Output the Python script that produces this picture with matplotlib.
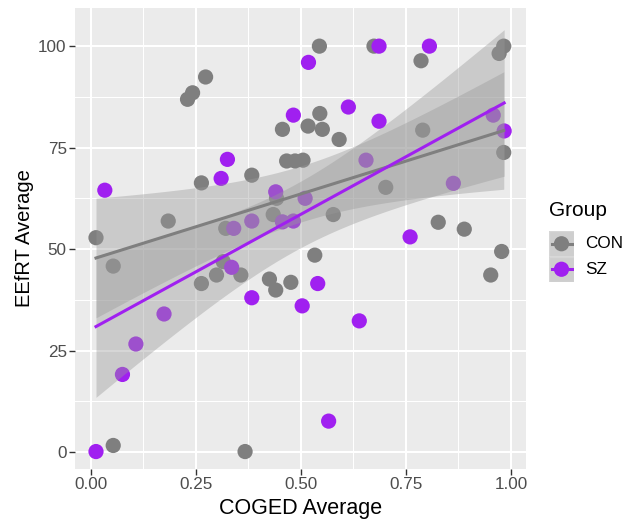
import matplotlib
matplotlib.use("Agg")
import matplotlib.pyplot as plt
import numpy as np

plt.rcParams['font.family'] = ['Liberation Sans', 'DejaVu Sans']

# CON group (x = COGED average, y = EEfRT average)
con_x = [0.012, 0.053, 0.053, 0.184, 0.230, 0.242, 0.273, 0.263, 0.263, 0.299,
         0.315, 0.321, 0.357, 0.367, 0.383, 0.425, 0.434, 0.440, 0.442, 0.456,
         0.466, 0.476, 0.486, 0.505, 0.517, 0.533, 0.544, 0.545, 0.551, 0.577,
         0.591, 0.674, 0.702, 0.786, 0.790, 0.827, 0.889, 0.952, 0.972, 0.978,
         0.983, 0.983]
con_y = [52.8, 45.8, 1.6, 56.9, 86.9, 88.5, 92.4, 66.3, 41.5, 43.6,
         46.9, 55.1, 43.6, 0.1, 68.2, 42.6, 58.5, 39.9, 62.5, 79.5,
         71.7, 41.8, 71.7, 71.9, 80.3, 48.5, 100.0, 83.4, 79.5, 58.5,
         77.0, 100.0, 65.2, 96.4, 79.3, 56.6, 54.9, 43.6, 98.2, 49.4,
         73.8, 100.0]

# SZ group
sz_x = [0.012, 0.033, 0.075, 0.107, 0.174, 0.310, 0.325, 0.335, 0.340, 0.383,
        0.383, 0.440, 0.456, 0.482, 0.482, 0.503, 0.510, 0.518, 0.540, 0.566,
        0.613, 0.639, 0.655, 0.686, 0.686, 0.760, 0.806, 0.863, 0.958, 0.984]
sz_y = [0.1, 64.5, 19.1, 26.6, 34.0, 67.4, 72.1, 45.5, 55.1, 56.9,
        38.0, 64.1, 56.7, 56.9, 83.0, 36.0, 62.5, 96.0, 41.5, 7.6,
        85.0, 32.3, 71.9, 81.5, 100.0, 53.0, 100.0, 66.2, 83.0, 79.1]

groups = ["CON", "SZ"]
colors = {"CON": "#7F7F7F", "SZ": "#A020F0"}
data = {"CON": (con_x, con_y), "SZ": (sz_x, sz_y)}
# 97.5% t quantiles for df = n - 2 (42 and 30 points)
t_val = {"CON": 2.021, "SZ": 2.048}


def lm_band(x, y, t):
    x = np.asarray(x); y = np.asarray(y)
    n = len(x)
    b, a = np.polyfit(x, y, 1)
    resid = y - (a + b * x)
    s = np.sqrt(np.sum(resid ** 2) / (n - 2))
    xs = np.linspace(x.min(), x.max(), 80)
    fit = a + b * xs
    se = s * np.sqrt(1.0 / n + (xs - x.mean()) ** 2 / np.sum((x - x.mean()) ** 2))
    return xs, fit, fit - t * se, fit + t * se


fig = plt.figure(figsize=(6.33, 5.21), dpi=100)
ax = fig.add_axes([75 / 633, 1 - 469 / 521, (526 - 75) / 633, (469 - 8) / 521])
ax.set_facecolor("#EBEBEB")

for g in groups:
    x, y = data[g]
    ax.scatter(x, y, s=120, color=colors[g], edgecolors="none", zorder=3)

fits = {}
for g in groups:
    x, y = data[g]
    fits[g] = lm_band(x, y, t_val[g])
    xs, fit, lo, hi = fits[g]
    ax.fill_between(xs, lo, hi, color="#999999", alpha=0.4, linewidth=0, zorder=4)
for g in groups:
    xs, fit, lo, hi = fits[g]
    ax.plot(xs, fit, color=colors[g], lw=2.2, zorder=5)

ax.set_xlim(-0.038, 1.036)
ax.set_ylim(-4.2, 109.4)

ax.set_xticks([0, 0.25, 0.5, 0.75, 1.0])
ax.set_xticklabels(["0.00", "0.25", "0.50", "0.75", "1.00"])
ax.set_yticks([0, 25, 50, 75, 100])
ax.set_xticks([0.125, 0.375, 0.625, 0.875], minor=True)
ax.set_yticks([12.5, 37.5, 62.5, 87.5], minor=True)
ax.grid(True, which="major", color="white", lw=1.5, zorder=0)
ax.grid(True, which="minor", color="white", lw=0.75, zorder=0)
ax.set_axisbelow(True)
for sp in ax.spines.values():
    sp.set_visible(False)
ax.tick_params(which="major", length=4, width=1, color="#333333",
               labelsize=12.3, labelcolor="#4D4D4D", pad=2)
ax.tick_params(which="minor", length=0)

ax.set_xlabel("COGED Average", fontsize=15.5, labelpad=4)
ax.set_ylabel("EEfRT Average", fontsize=14.5, labelpad=3)

# legend
fig.text(549 / 633, 1 - 211 / 521, "Group", fontsize=15, va="center", ha="left")
lax = fig.add_axes([549 / 633, 1 - 282 / 521, 25 / 633, 51 / 521])
lax.set_xlim(0, 1)
lax.set_ylim(0, 2)
lax.axis("off")
for i, g in enumerate(groups):
    yc = 1.5 - i
    lax.add_patch(plt.Rectangle((0, yc - 0.5), 1, 1, facecolor="#F2F2F2",
                                edgecolor="white", lw=1))
    lax.add_patch(plt.Rectangle((0, yc - 0.5), 1, 1, facecolor="#999999",
                                alpha=0.4, edgecolor="none"))
    lax.plot([0.1, 0.9], [yc, yc], color=colors[g], lw=2.2)
    lax.scatter([0.5], [yc], s=120, color=colors[g], edgecolors="none", zorder=3)
    fig.text(585 / 633, 1 - (243.5 + 26 * i) / 521, g, fontsize=12.3,
             va="center", ha="left")

fig.savefig("out.png", dpi=100)
